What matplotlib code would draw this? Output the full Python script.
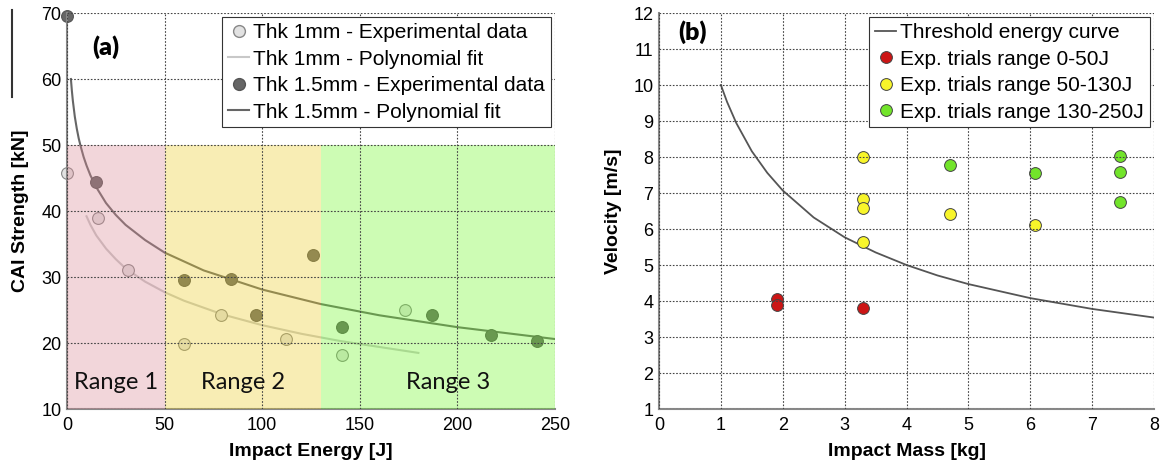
import numpy as np
import matplotlib
matplotlib.use('Agg')
import matplotlib.pyplot as plt
from matplotlib.patches import Rectangle
from matplotlib.lines import Line2D

plt.rcParams['font.family'] = ['Liberation Sans', 'DejaVu Sans']

# ---- panel (a) data ----
e_1mm = [0, 16, 31, 60, 79, 112, 141, 173]
s_1mm = [45.7, 38.9, 31.0, 19.9, 24.2, 20.6, 18.2, 25.0]
e_15mm = [0, 15, 60, 84, 97, 126, 141, 187, 217, 241]
s_15mm = [69.5, 44.4, 29.6, 29.7, 24.2, 33.4, 22.4, 24.2, 21.2, 20.3]

fit_e_1mm = [10, 12, 15, 20, 25, 30, 40, 50, 60, 80, 100, 120, 140, 160, 180]
fit_s_1mm = [39.2, 37.9, 36.3, 34.3, 32.7, 31.3, 29.3, 27.7, 26.4, 24.3, 22.7, 21.4, 20.3, 19.4, 18.5]
fit_e_15mm = [2, 2.5, 3, 4, 5, 6, 7, 8.5, 10, 12, 15, 20, 25, 30, 40, 50, 70, 100, 130, 160, 200, 250]
fit_s_15mm = [60.0, 58.2, 56.7, 54.3, 52.5, 51.0, 49.8, 48.2, 46.9, 45.4, 43.6, 41.2, 39.4, 37.9,
              35.6, 33.7, 31.0, 28.1, 25.9, 24.2, 22.4, 20.6]

ranges = [(0, 50), (50, 130), (130, 250)]
range_labels = ['Range 1', 'Range 2', 'Range 3']
range_label_x = [25, 90, 195]
range_colors = ['#da8a95', '#ebce29', '#70f929']

# ---- panel (b) data ----
curve_m = [1, 1.1, 1.25, 1.5, 1.75, 2, 2.5, 3, 3.5, 4, 4.5, 5, 6, 7, 8]
curve_v = [10.0, 9.53, 8.94, 8.16, 7.56, 7.07, 6.32, 5.77, 5.35, 5.0, 4.71, 4.47, 4.08, 3.78, 3.54]
red_m = [1.9, 1.9, 3.3]
red_v = [4.05, 3.89, 3.8]
yellow_m = [3.3, 3.3, 3.3, 3.3, 4.7, 6.07]
yellow_v = [8.0, 6.82, 6.57, 5.63, 6.43, 6.1]
green_m = [4.7, 6.07, 7.45, 7.45, 7.45]
green_v = [7.78, 7.56, 8.02, 7.58, 6.75]

fig = plt.figure(figsize=(11.66, 4.66), dpi=100)
ax1 = fig.add_axes([67/1166, 57/466, 488/1166, 396/466])
ax2 = fig.add_axes([659/1166, 57/466, 495/1166, 396/466])

grid_kw = dict(color='#444444', linestyle=(0, (1.5, 1.5)), linewidth=0.8)
tick_fs = 13
lab_fs = 14

def style_axes(ax):
    for s in ['top', 'right']:
        ax.spines[s].set_visible(False)
    for s in ['left', 'bottom']:
        ax.spines[s].set_color('#888888')
        ax.spines[s].set_linewidth(1.5)
    ax.grid(True, **grid_kw)
    ax.xaxis.set_zorder(4)
    ax.yaxis.set_zorder(4)
    ax.tick_params(direction='in', length=0, labelsize=tick_fs)
    ax.tick_params(axis='x', pad=6)
    ax.tick_params(axis='y', pad=4)

# ---- (a) ----
ax1.plot(fit_e_1mm, fit_s_1mm, color='#c8c8c8', lw=1.5, zorder=2)
ax1.plot(fit_e_15mm, fit_s_15mm, color='#666666', lw=1.5, zorder=2)
ax1.plot(e_1mm, s_1mm, 'o', ms=8.5, mfc='#e2e2e2', mec='#888888', mew=0.8,
         zorder=2.2, clip_on=False)
ax1.plot(e_15mm, s_15mm, 'o', ms=8.5, mfc='#666666', mec='#555555', mew=0.8,
         zorder=2.2, clip_on=False)

for (x0, x1), c, lbl, lx in zip(ranges, range_colors, range_labels, range_label_x):
    ax1.add_patch(Rectangle((x0, 10), x1 - x0, 40, facecolor=c, edgecolor='none',
                            alpha=0.35, zorder=3))
    ax1.text(lx, 14, lbl, ha='center', va='center', fontsize=17,
             family='Lato', color='#111111', zorder=5)

ax1.set_xlim(0, 250)
ax1.set_ylim(10, 70)
ax1.set_xticks(np.arange(0, 251, 50))
ax1.set_yticks(np.arange(10, 71, 10))
style_axes(ax1)
ax1.set_xlabel('Impact Energy [J]', fontsize=lab_fs, fontweight='bold')
ax1.set_ylabel('CAI Strength [kN]', fontsize=lab_fs, fontweight='bold')
ax1.xaxis.set_label_coords(0.5, -0.087)
ax1.yaxis.set_label_coords(-0.078, 0.5)
ax1.text(0.08, 0.915, '(a)', transform=ax1.transAxes, ha='center', va='center',
         fontsize=18, fontweight='heavy', family='Lato', zorder=5)

h1 = [Line2D([], [], ls='none', marker='o', ms=8.5, mfc='#e2e2e2', mec='#888888'),
      Line2D([], [], color='#c8c8c8', lw=1.5),
      Line2D([], [], ls='none', marker='o', ms=8.5, mfc='#666666', mec='#555555'),
      Line2D([], [], color='#666666', lw=1.5)]
l1 = ['Thk 1mm - Experimental data', 'Thk 1mm - Polynomial fit',
      'Thk 1.5mm - Experimental data', 'Thk 1.5mm - Polynomial fit']
leg_kw = dict(loc='upper right', bbox_to_anchor=(1, 1), borderaxespad=0.2,
              fontsize=15, labelspacing=0.36, handlelength=1.0,
              handletextpad=0.2, borderpad=0.28, fancybox=False, framealpha=1,
              edgecolor='#333333')
leg = ax1.legend(h1, l1, **leg_kw)
leg.get_frame().set_linewidth(0.8)
leg.set_zorder(6)

# ---- (b) ----
ax2.plot(curve_m, curve_v, color='#555555', lw=1.3, zorder=2,
         label='Threshold energy curve')
ax2.plot(red_m, red_v, 'o', ms=8.5, mfc='#cc1515', mec='#444444', mew=0.7,
         zorder=3, label='Exp. trials range 0-50J')
ax2.plot(yellow_m, yellow_v, 'o', ms=8.5, mfc='#f8f52a', mec='#444444', mew=0.7,
         zorder=3, label='Exp. trials range 50-130J')
ax2.plot(green_m, green_v, 'o', ms=8.5, mfc='#72e42a', mec='#444444', mew=0.7,
         zorder=3, label='Exp. trials range 130-250J')
ax2.set_xlim(0, 8)
ax2.set_ylim(1, 12)
ax2.set_xticks(np.arange(0, 9, 1))
ax2.set_yticks(np.arange(1, 13, 1))
style_axes(ax2)
ax2.set_xlabel('Impact Mass [kg]', fontsize=lab_fs, fontweight='bold')
ax2.set_ylabel('Velocity [m/s]', fontsize=lab_fs, fontweight='bold')
ax2.xaxis.set_label_coords(0.5, -0.087)
ax2.yaxis.set_label_coords(-0.075, 0.5)
ax2.text(0.067, 0.952, '(b)', transform=ax2.transAxes, ha='center', va='center',
         fontsize=18, fontweight='heavy', family='Lato', zorder=5)
leg2 = ax2.legend(**leg_kw)
leg2.get_frame().set_linewidth(0.8)
leg2.set_zorder(6)

# thin stray line at far left of the original figure
fig.add_artist(Line2D([12/1166, 12/1166], [1 - 10/466, 1 - 97/466],
                      color='#333333', lw=1.5))

fig.savefig('out.png', dpi=100)
